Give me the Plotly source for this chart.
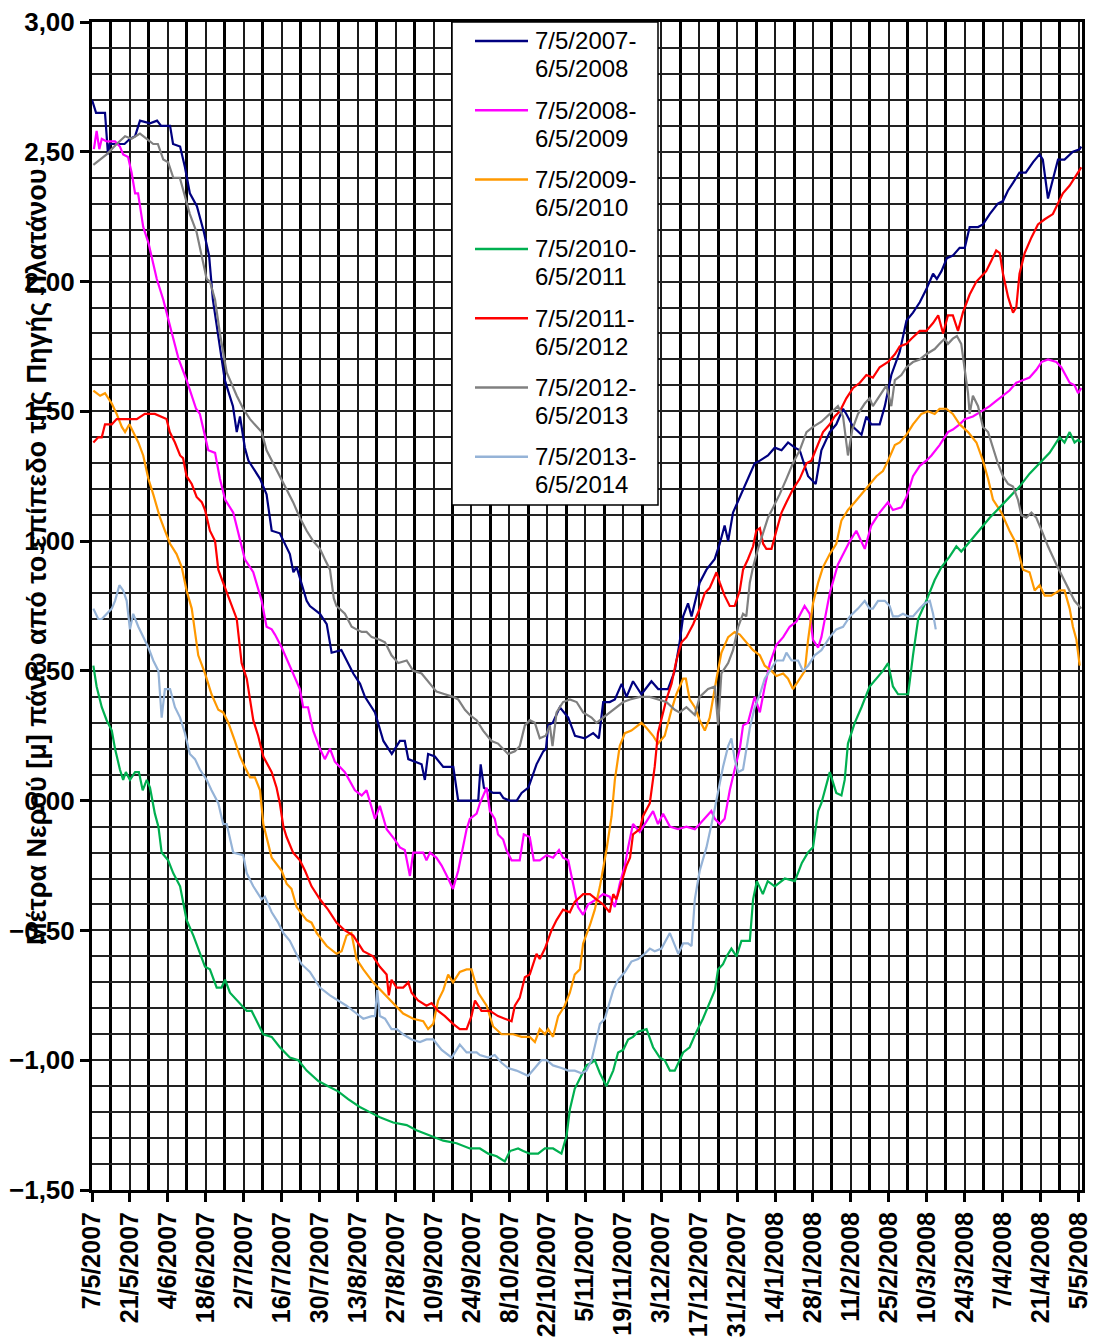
import plotly.graph_objects as go
import pandas as pd

BASE = pd.Timestamp("2007-05-07")

# (day offset from 7/5, water level in m)
s2007 = [(0, 2.70), (1.5, 2.65), (4.8, 2.65), (5.9, 2.49), (6.5, 2.53), (12, 2.53), (14, 2.55), (15.9, 2.56), (17.7, 2.62),
         (21.4, 2.61), (24, 2.62), (25.5, 2.60), (28.8, 2.60), (29.9, 2.53), (32.5, 2.52), (34.3, 2.44), (36.1, 2.34),
         (38.7, 2.29), (41.3, 2.19), (43.2, 2.10), (44.6, 1.93), (46.7, 1.78), (49, 1.62), (52, 1.52), (53.4, 1.42),
         (54.6, 1.48), (56.4, 1.36), (57.7, 1.31), (62, 1.24), (64.4, 1.18), (66.3, 1.04), (69.3, 1.03), (73, 0.95),
         (74.3, 0.88), (75.5, 0.90), (79.2, 0.77), (80.4, 0.75), (84.1, 0.72), (86.6, 0.68), (88.4, 0.57), (92, 0.58),
         (96.4, 0.49), (98.9, 0.45), (100.7, 0.40), (104.4, 0.34), (107.5, 0.23), (110.6, 0.18), (113.6, 0.23),
         (115.4, 0.23), (116.7, 0.16), (121.6, 0.14), (122.8, 0.08), (124, 0.18), (126.5, 0.17), (129.6, 0.13),
         (133.3, 0.13), (135.1, 0.00), (142.5, 0.00), (143.4, 0.14), (144.6, 0.05), (148, 0.03), (150.5, 0.03),
         (151.8, 0.01), (154.2, 0.00), (156.7, 0.00), (158.5, 0.03), (161, 0.05), (164, 0.14), (166.5, 0.19),
         (167.5, 0.20), (168.3, 0.29), (170, 0.30), (172.6, 0.36), (175.7, 0.32), (178.2, 0.25), (181.8, 0.24),
         (184.9, 0.26), (187, 0.24), (188.6, 0.38), (191, 0.38), (192.9, 0.39), (195.4, 0.45), (197.2, 0.40),
         (199.6, 0.46), (202.7, 0.41), (206.4, 0.46), (208.9, 0.43), (212.5, 0.43), (215, 0.50), (216.8, 0.61),
         (218.1, 0.71), (219.9, 0.76), (221.2, 0.71), (224.2, 0.84), (226.7, 0.89), (229.7, 0.93), (231.6, 0.99),
         (233.4, 1.06), (234.7, 1.00), (236.5, 1.11), (240.2, 1.20), (244.5, 1.30), (246.4, 1.31), (249.4, 1.33),
         (251.9, 1.36), (254.4, 1.35), (256.8, 1.38), (259.3, 1.36), (261.1, 1.35), (264.2, 1.25), (267, 1.22),
         (269.1, 1.35), (272.2, 1.42), (274.6, 1.45), (277.1, 1.51), (278.3, 1.49), (280.8, 1.44), (283.9, 1.41),
         (285.7, 1.48), (287.5, 1.45), (290.6, 1.45), (292.5, 1.52), (294.9, 1.64), (298, 1.73), (300.5, 1.85),
         (302.9, 1.88), (305.4, 1.92), (307.8, 1.97), (310.3, 2.03), (311.7, 2.01), (313.4, 2.04), (315.4, 2.09),
         (317.6, 2.10), (320.1, 2.13), (322, 2.13), (323.8, 2.21), (326.9, 2.21), (328.7, 2.22), (331.2, 2.26),
         (334.2, 2.30), (336.1, 2.31), (337.9, 2.35), (339.8, 2.38), (342.2, 2.42), (344.5, 2.42), (347.2, 2.46),
         (349.6, 2.49), (350.8, 2.47), (352.7, 2.32), (354.5, 2.39), (356.4, 2.47), (358.8, 2.47), (360.7, 2.49),
         (361.9, 2.50), (364.4, 2.51), (365, 2.52)]

s2008 = [(0.7, 2.51), (1.7, 2.58), (2.7, 2.51), (3.6, 2.55), (5.4, 2.54), (8.5, 2.54), (10.3, 2.52), (11.5, 2.49),
         (13.3, 2.48), (14.6, 2.42), (15.9, 2.34), (17.0, 2.34), (18.9, 2.21), (20.8, 2.15), (23.9, 2.01), (26.3, 1.93),
         (29.5, 1.80), (32.0, 1.70), (34.9, 1.62), (38.4, 1.51), (39.8, 1.49), (42.9, 1.35), (45.4, 1.34), (47.2, 1.24),
         (49.1, 1.16), (52.1, 1.11), (56.4, 0.93), (59.5, 0.88), (62.6, 0.77), (64.4, 0.67), (66.3, 0.66), (67.5, 0.64),
         (70.0, 0.59), (74.2, 0.49), (76.7, 0.43), (77.9, 0.36), (79.7, 0.36), (81.6, 0.27), (84.1, 0.20), (85.9, 0.16),
         (87.8, 0.20), (89.6, 0.15), (91.5, 0.13), (93.3, 0.11), (97.0, 0.04), (99.5, 0.02), (101.3, 0.04),
         (104.4, -0.07), (106.2, -0.02), (108.7, -0.11), (111.7, -0.15), (113.6, -0.18), (115.4, -0.19),
         (117.3, -0.29), (118.5, -0.20), (122.2, -0.20), (123.4, -0.23), (124.7, -0.20), (127.1, -0.22),
         (129.0, -0.25), (131.4, -0.30), (133.2, -0.34), (135.1, -0.27), (138.2, -0.11), (139.4, -0.07),
         (141.9, -0.05), (143.1, -0.01), (145.6, 0.05), (146.8, -0.04), (148.6, -0.07), (149.8, -0.13),
         (151.7, -0.15), (152.9, -0.19), (154.8, -0.23), (157.8, -0.23), (159.3, -0.13), (161.5, -0.14),
         (163.0, -0.23), (165.2, -0.23), (167.7, -0.21), (170.1, -0.22), (172.3, -0.19), (173.8, -0.22),
         (175.7, -0.23), (177.5, -0.32), (179.3, -0.41), (181.2, -0.44), (183.0, -0.40), (186.1, -0.38),
         (188.6, -0.36), (191.0, -0.37), (192.9, -0.41), (194.7, -0.32), (196.6, -0.25), (197.8, -0.18),
         (199.6, -0.09), (202.1, -0.12), (203.9, -0.09), (207.0, -0.04), (208.8, -0.09), (210.7, -0.05),
         (213.2, -0.10), (216.2, -0.11), (219.3, -0.10), (222.4, -0.11), (224.2, -0.09), (226.7, -0.06),
         (228.5, -0.04), (229.8, -0.07), (231.6, -0.09), (233.4, -0.07), (235.3, 0.04), (237.1, 0.12), (239.0, 0.20),
         (240.2, 0.29), (242.0, 0.30), (244.5, 0.40), (246.4, 0.34), (248.2, 0.44), (250.1, 0.53), (252.5, 0.60),
         (255.0, 0.63), (257.4, 0.67), (259.9, 0.69), (262.9, 0.75), (264.8, 0.72), (266.0, 0.62), (267.9, 0.59),
         (269.1, 0.63), (272.2, 0.80), (275.2, 0.91), (278.3, 0.97), (279.6, 1.00), (282.0, 1.04), (285.1, 0.97),
         (287.5, 1.06), (290.6, 1.11), (293.7, 1.15), (295.5, 1.12), (298.6, 1.13), (300.5, 1.17), (302.9, 1.25),
         (305.4, 1.29), (307.8, 1.31), (309.7, 1.33), (312.7, 1.37), (315.8, 1.42), (317.6, 1.43), (320.1, 1.45),
         (322.0, 1.47), (325.0, 1.48), (328.1, 1.50), (331.2, 1.52), (333.6, 1.54), (336.1, 1.56), (338.5, 1.58),
         (341.0, 1.61), (343.5, 1.62), (345.9, 1.63), (348.4, 1.66), (350.3, 1.69), (352.7, 1.70), (355.8, 1.69),
         (357.6, 1.67), (359.5, 1.63), (360.7, 1.61), (362.5, 1.60), (363.8, 1.57), (365, 1.59)]

s2009 = [(0.5, 1.58), (3.0, 1.56), (4.8, 1.57), (7.3, 1.53), (9.1, 1.49), (11.0, 1.44), (12.2, 1.42), (13.8, 1.45),
         (15.2, 1.42), (17.1, 1.38), (18.9, 1.33), (20.8, 1.24), (22.6, 1.18), (25.1, 1.09), (26.9, 1.04), (28.8, 0.99),
         (31.2, 0.95), (33.1, 0.90), (34.9, 0.81), (36.8, 0.74), (39.2, 0.56), (41.7, 0.49), (44.1, 0.41), (46.6, 0.35),
         (48.4, 0.34), (50.3, 0.30), (52.7, 0.23), (54.6, 0.17), (56.4, 0.13), (58.3, 0.09), (60.1, 0.09), (62.0, 0.04),
         (63.2, -0.09), (66.3, -0.22), (70.0, -0.27), (71.8, -0.32), (73.6, -0.34), (75.5, -0.41), (79.2, -0.46),
         (81.0, -0.47), (82.9, -0.51), (86.6, -0.56), (90.2, -0.59), (92.1, -0.58), (93.9, -0.52), (95.7, -0.51),
         (97.6, -0.61), (100.1, -0.65), (103.7, -0.70), (107.4, -0.74), (111.1, -0.78), (114.8, -0.82),
         (118.5, -0.84), (122.2, -0.85), (124.0, -0.88), (125.9, -0.86), (127.7, -0.77), (129.6, -0.73),
         (131.4, -0.67), (133.2, -0.70), (135.7, -0.66), (138.2, -0.65), (140.0, -0.65), (142.5, -0.74),
         (145.6, -0.79), (148.0, -0.87), (151.1, -0.90), (155.4, -0.90), (158.5, -0.91), (161.5, -0.91),
         (163.4, -0.93), (165.2, -0.88), (167.1, -0.90), (168.3, -0.88), (170.1, -0.91), (172.0, -0.83),
         (174.4, -0.79), (176.3, -0.74), (178.1, -0.67), (180.0, -0.65), (181.2, -0.55), (183.7, -0.48),
         (185.5, -0.42), (187.4, -0.33), (189.8, -0.19), (191.7, -0.06), (192.9, 0.08), (194.7, 0.21), (196.6, 0.26),
         (199.0, 0.27), (202.7, 0.30), (204.6, 0.28), (207.0, 0.25), (208.8, 0.22), (211.3, 0.25), (213.8, 0.35),
         (215.6, 0.41), (218.1, 0.47), (219.1, 0.47), (220.5, 0.39), (222.4, 0.36), (224.2, 0.31), (226.1, 0.27),
         (227.9, 0.32), (230.4, 0.47), (232.2, 0.57), (234.7, 0.63), (237.1, 0.65), (239.0, 0.64), (241.4, 0.61),
         (243.9, 0.58), (246.4, 0.56), (248.2, 0.52), (250.7, 0.50), (252.5, 0.48), (255.0, 0.49), (256.8, 0.47),
         (258.6, 0.43), (261.1, 0.47), (263.0, 0.50), (264.2, 0.62), (266.0, 0.76), (267.9, 0.84), (269.7, 0.90),
         (272.2, 0.95), (274.6, 0.99), (276.5, 1.08), (278.9, 1.12), (281.4, 1.15), (283.9, 1.18), (286.9, 1.22),
         (289.4, 1.25), (291.8, 1.27), (293.7, 1.31), (296.2, 1.37), (298.0, 1.38), (300.5, 1.41), (302.9, 1.45),
         (306.0, 1.49), (308.4, 1.50), (310.9, 1.49), (312.7, 1.51), (315.2, 1.51), (317.6, 1.49), (320.1, 1.45),
         (323.2, 1.42), (326.3, 1.38), (328.7, 1.31), (330.6, 1.24), (332.4, 1.16), (335.5, 1.11), (338.5, 1.04),
         (341.0, 0.99), (343.5, 0.89), (345.9, 0.88), (347.8, 0.81), (349.6, 0.83), (351.5, 0.79), (353.9, 0.79),
         (357.0, 0.81), (358.8, 0.81), (360.7, 0.74), (361.9, 0.67), (363.2, 0.62), (364.4, 0.52)]

s2010 = [(0.5, 0.52), (1.7, 0.44), (3.6, 0.36), (5.4, 0.31), (7.3, 0.27), (8.5, 0.20), (10.3, 0.12), (11.5, 0.08),
         (12.5, 0.11), (14.0, 0.08), (15.9, 0.11), (17.3, 0.11), (18.7, 0.04), (20.2, 0.08), (21.4, 0.05), (23.2, -0.05),
         (24.5, -0.10), (25.7, -0.20), (28.1, -0.23), (30.0, -0.28), (32.5, -0.33), (34.9, -0.46), (37.4, -0.52),
         (39.8, -0.59), (41.7, -0.64), (43.5, -0.65), (46.0, -0.72), (47.8, -0.72), (49.1, -0.69), (50.9, -0.74),
         (54.6, -0.78), (57.1, -0.81), (58.9, -0.81), (63.2, -0.90), (66.3, -0.91), (69.3, -0.95), (73.0, -0.99),
         (76.1, -1.00), (79.2, -1.04), (83.5, -1.08), (87.1, -1.10), (90.8, -1.12), (94.5, -1.15), (98.8, -1.18),
         (102.5, -1.20), (106.2, -1.22), (111.1, -1.24), (116.1, -1.25), (119.7, -1.27), (124.7, -1.29),
         (129.6, -1.31), (134.5, -1.32), (139.4, -1.34), (143.1, -1.34), (146.2, -1.36), (149.3, -1.37),
         (152.3, -1.39), (154.2, -1.35), (157.2, -1.34), (159.1, -1.35), (161.5, -1.36), (164.6, -1.36),
         (167.1, -1.34), (170.1, -1.34), (173.2, -1.36), (175.1, -1.29), (176.3, -1.19), (178.1, -1.11),
         (180.6, -1.06), (182.4, -1.02), (184.3, -1.01), (185.5, -1.00), (187.4, -1.05), (189.8, -1.10),
         (192.3, -1.04), (194.1, -0.97), (196.0, -0.96), (197.8, -0.92), (199.6, -0.91), (201.5, -0.89),
         (204.6, -0.88), (207.0, -0.95), (209.5, -0.99), (211.3, -1.00), (213.2, -1.04), (215.0, -1.04),
         (216.8, -1.00), (218.1, -0.97), (220.5, -0.95), (223.0, -0.89), (225.4, -0.84), (227.9, -0.78),
         (229.8, -0.73), (231.0, -0.65), (232.8, -0.63), (234.1, -0.60), (235.9, -0.57), (237.8, -0.60),
         (239.6, -0.54), (242.7, -0.54), (243.9, -0.38), (245.3, -0.31), (247.5, -0.36), (249.3, -0.31),
         (251.9, -0.33), (255.6, -0.30), (259.3, -0.31), (261.9, -0.24), (264.1, -0.20), (266.0, -0.18),
         (267.9, -0.04), (269.1, -0.01), (272.2, 0.11), (274.6, 0.03), (276.5, 0.02), (277.7, 0.08), (278.9, 0.22),
         (281.4, 0.30), (283.9, 0.36), (286.9, 0.44), (290.0, 0.48), (291.8, 0.50), (293.7, 0.53), (295.5, 0.44),
         (297.4, 0.41), (301.1, 0.41), (302.9, 0.56), (304.8, 0.70), (307.8, 0.77), (310.9, 0.85), (313.4, 0.90),
         (316.4, 0.94), (318.9, 0.98), (320.7, 0.96), (323.2, 0.99), (325.6, 1.02), (328.7, 1.06), (331.2, 1.09),
         (334.9, 1.13), (338.5, 1.17), (342.2, 1.21), (345.9, 1.26), (349.6, 1.30), (353.3, 1.34), (357.0, 1.40),
         (358.8, 1.38), (360.7, 1.42), (362.5, 1.38), (363.8, 1.39), (365, 1.38)]

s2011 = [(0.5, 1.38), (2.3, 1.40), (3.6, 1.40), (4.8, 1.45), (7.3, 1.45), (9.1, 1.47), (16.5, 1.47), (19.5, 1.49),
         (23.2, 1.49), (25.7, 1.48), (27.5, 1.47), (28.7, 1.42), (30.6, 1.38), (32.5, 1.33), (33.6, 1.32), (34.9, 1.25),
         (36.8, 1.22), (38.6, 1.17), (40.5, 1.15), (41.7, 1.12), (43.5, 1.04), (45.4, 1.00), (46.6, 0.89), (49.1, 0.82),
         (51.5, 0.75), (53.4, 0.70), (55.2, 0.53), (57.1, 0.47), (59.5, 0.31), (61.3, 0.25), (63.2, 0.17), (66.3, 0.11),
         (68.1, 0.05), (69.3, -0.01), (70.6, -0.10), (71.8, -0.14), (74.2, -0.20), (76.7, -0.23), (78.6, -0.27),
         (81.0, -0.33), (84.1, -0.38), (87.1, -0.42), (90.2, -0.47), (93.3, -0.50), (96.4, -0.52), (100.1, -0.58),
         (103.7, -0.60), (106.2, -0.64), (108.7, -0.67), (109.5, -0.75), (110.5, -0.69), (112.4, -0.72),
         (114.8, -0.72), (116.7, -0.70), (117.9, -0.74), (120.3, -0.77), (123.4, -0.79), (125.3, -0.78),
         (127.7, -0.81), (130.2, -0.83), (133.2, -0.86), (135.7, -0.88), (138.2, -0.88), (140.0, -0.83),
         (141.3, -0.77), (143.7, -0.81), (146.8, -0.81), (149.8, -0.83), (152.3, -0.84), (154.8, -0.85),
         (156.0, -0.79), (157.8, -0.76), (159.7, -0.68), (161.5, -0.67), (164.0, -0.59), (165.2, -0.61),
         (167.1, -0.57), (169.5, -0.50), (171.4, -0.46), (173.8, -0.42), (176.3, -0.43), (178.1, -0.39),
         (181.2, -0.36), (183.7, -0.36), (186.1, -0.38), (188.6, -0.40), (191.0, -0.43), (192.3, -0.36),
         (193.5, -0.38), (195.4, -0.31), (197.2, -0.25), (198.5, -0.22), (199.6, -0.13), (202.1, -0.11),
         (203.3, -0.06), (205.8, -0.01), (207.6, 0.13), (208.8, 0.26), (210.1, 0.31), (211.9, 0.39), (213.8, 0.45),
         (215.6, 0.54), (217.5, 0.61), (219.3, 0.63), (221.8, 0.68), (224.2, 0.74), (226.1, 0.80), (227.9, 0.82),
         (230.4, 0.88), (231.6, 0.84), (233.4, 0.79), (235.3, 0.75), (237.1, 0.75), (239.0, 0.81), (240.2, 0.89),
         (242.0, 0.93), (243.9, 0.98), (245.1, 1.04), (246.4, 1.05), (247.6, 0.99), (248.8, 0.97), (250.7, 0.97),
         (252.5, 1.04), (254.4, 1.11), (256.2, 1.15), (258.6, 1.20), (261.1, 1.24), (263.6, 1.30), (265.4, 1.31),
         (267.3, 1.36), (269.7, 1.42), (272.2, 1.45), (274.0, 1.48), (275.9, 1.50), (278.3, 1.55), (280.8, 1.59),
         (283.3, 1.61), (285.7, 1.64), (288.1, 1.63), (290.6, 1.67), (293.7, 1.69), (296.2, 1.72), (298.0, 1.75),
         (300.5, 1.76), (302.3, 1.78), (305.4, 1.81), (307.8, 1.81), (310.3, 1.84), (312.2, 1.87), (314.0, 1.80),
         (315.8, 1.87), (317.6, 1.87), (319.5, 1.81), (321.3, 1.88), (323.8, 1.95), (326.3, 2.00), (329.9, 2.04),
         (331.8, 2.08), (333.6, 2.12), (334.9, 2.11), (336.1, 2.03), (338.0, 1.94), (339.8, 1.88), (341.0, 1.90),
         (342.2, 2.03), (344.1, 2.11), (346.6, 2.17), (349.0, 2.22), (351.5, 2.24), (354.5, 2.26), (356.4, 2.30),
         (358.2, 2.34), (360.7, 2.37), (363.2, 2.41), (365, 2.44)]

s2012 = [(0.5, 2.45), (5.4, 2.49), (9.1, 2.53), (12.2, 2.56), (14.6, 2.55), (17.7, 2.57), (20.2, 2.55), (22.6, 2.53),
         (24.3, 2.53), (26.3, 2.47), (28.1, 2.46), (30.0, 2.40), (32.4, 2.40), (34.3, 2.33), (36.1, 2.26), (38.6, 2.19),
         (40.5, 2.10), (42.3, 2.01), (43.5, 2.00), (45.4, 1.93), (47.2, 1.80), (49.7, 1.65), (53.4, 1.56), (55.8, 1.51),
         (58.3, 1.47), (60.7, 1.44), (62.6, 1.42), (64.4, 1.35), (66.9, 1.30), (69.3, 1.25), (71.8, 1.20), (74.2, 1.15),
         (76.7, 1.09), (79.2, 1.04), (81.6, 1.00), (84.1, 0.97), (85.9, 0.93), (87.8, 0.89), (89.2, 0.78), (90.2, 0.75),
         (93.3, 0.72), (95.8, 0.67), (97.6, 0.66), (99.5, 0.65), (101.3, 0.65), (103.2, 0.63), (106.2, 0.62),
         (108.1, 0.61), (110.5, 0.56), (113.0, 0.53), (116.1, 0.54), (118.5, 0.50), (121.6, 0.49), (124.7, 0.45),
         (127.1, 0.42), (130.2, 0.41), (133.2, 0.40), (135.1, 0.39), (137.6, 0.35), (139.4, 0.33), (141.9, 0.31),
         (144.3, 0.27), (147.4, 0.23), (149.8, 0.22), (151.7, 0.20), (153.5, 0.18), (156.0, 0.19), (157.8, 0.21),
         (159.7, 0.29), (161.5, 0.31), (163.4, 0.30), (165.2, 0.24), (167.4, 0.25), (168.9, 0.29), (169.9, 0.21),
         (171.4, 0.34), (173.8, 0.38), (176.3, 0.39), (178.8, 0.38), (181.2, 0.34), (184.3, 0.32), (186.1, 0.30),
         (188.6, 0.32), (191.0, 0.34), (193.5, 0.36), (196.0, 0.38), (198.5, 0.39), (202.1, 0.40), (205.8, 0.40),
         (208.8, 0.39), (211.9, 0.38), (215.0, 0.35), (216.8, 0.34), (219.3, 0.36), (222.4, 0.33), (224.2, 0.40),
         (227.3, 0.43), (229.8, 0.44), (231.0, 0.29), (232.2, 0.49), (234.7, 0.53), (236.5, 0.58), (238.4, 0.67),
         (240.2, 0.72), (241.4, 0.71), (242.7, 0.84), (243.9, 0.90), (245.7, 0.97), (247.6, 1.03), (249.4, 1.09),
         (251.3, 1.13), (253.7, 1.18), (256.2, 1.24), (258.6, 1.30), (261.1, 1.35), (263.6, 1.42), (266.0, 1.44),
         (269.1, 1.46), (272.2, 1.49), (275.2, 1.52), (277.1, 1.48), (278.9, 1.33), (280.5, 1.43), (282.6, 1.49),
         (285.1, 1.53), (286.9, 1.55), (288.1, 1.52), (290.6, 1.56), (293.1, 1.60), (294.9, 1.52), (296.2, 1.62),
         (298.6, 1.64), (300.5, 1.67), (302.9, 1.69), (305.4, 1.70), (307.8, 1.72), (310.9, 1.74), (312.7, 1.76),
         (314.6, 1.78), (315.8, 1.76), (317.6, 1.78), (319.1, 1.79), (320.7, 1.76), (322.0, 1.66), (323.2, 1.57),
         (323.8, 1.49), (325.0, 1.56), (326.9, 1.52), (328.7, 1.44), (330.6, 1.42), (332.4, 1.36), (334.2, 1.30),
         (336.1, 1.25), (338.0, 1.22), (339.8, 1.21), (341.6, 1.16), (342.9, 1.10), (344.7, 1.09), (346.6, 1.11),
         (348.4, 1.09), (350.8, 1.03), (352.7, 0.98), (355.8, 0.91), (358.3, 0.86), (360.7, 0.81), (362.5, 0.77),
         (365, 0.74)]

s2013 = [(0.5, 0.74), (2.3, 0.70), (3.6, 0.70), (5.4, 0.72), (7.3, 0.74), (8.5, 0.77), (10.1, 0.83), (11.5, 0.81),
         (12.8, 0.77), (14.0, 0.66), (15.2, 0.72), (17.1, 0.67), (18.9, 0.63), (20.8, 0.59), (22.6, 0.54), (24.5, 0.50),
         (25.7, 0.32), (26.9, 0.43), (28.8, 0.43), (30.6, 0.36), (32.5, 0.32), (34.3, 0.26), (36.1, 0.18), (38.0, 0.16),
         (39.8, 0.12), (42.3, 0.08), (44.1, 0.04), (46.6, -0.01), (48.4, -0.09), (49.7, -0.09), (52.1, -0.20),
         (55.8, -0.21), (57.1, -0.28), (59.5, -0.33), (62.6, -0.38), (63.8, -0.37), (66.3, -0.43), (68.7, -0.47),
         (70.6, -0.51), (73.0, -0.54), (74.9, -0.58), (77.3, -0.63), (80.4, -0.66), (84.1, -0.72), (87.8, -0.75),
         (90.8, -0.77), (93.9, -0.79), (97.6, -0.82), (100.1, -0.84), (103.2, -0.83), (104.4, -0.83), (105.2, -0.73),
         (106.2, -0.83), (108.1, -0.84), (110.5, -0.88), (112.4, -0.88), (114.8, -0.90), (117.9, -0.92),
         (121.0, -0.93), (123.4, -0.92), (125.9, -0.92), (129.0, -0.96), (132.7, -0.99), (135.7, -0.94),
         (138.2, -0.97), (141.9, -0.97), (143.1, -0.98), (146.2, -0.99), (148.6, -0.98), (151.1, -1.01),
         (153.5, -1.03), (156.6, -1.04), (158.5, -1.05), (160.9, -1.06), (163.4, -1.03), (165.8, -1.00),
         (167.7, -1.00), (170.1, -1.02), (173.2, -1.03), (175.7, -1.04), (178.1, -1.04), (180.6, -1.05),
         (182.4, -1.04), (184.3, -1.00), (186.1, -0.92), (187.4, -0.86), (189.2, -0.84), (190.4, -0.80),
         (192.3, -0.73), (194.1, -0.69), (196.6, -0.66), (199.0, -0.62), (201.5, -0.61), (203.9, -0.59),
         (205.8, -0.57), (207.6, -0.58), (210.1, -0.57), (213.2, -0.51), (215.0, -0.56), (216.3, -0.59),
         (218.1, -0.55), (219.9, -0.55), (221.2, -0.56), (222.4, -0.38), (224.2, -0.27), (226.7, -0.18),
         (229.2, -0.06), (231.0, 0.03), (232.8, 0.13), (234.7, 0.21), (235.9, 0.24), (237.1, 0.16), (238.4, 0.11),
         (240.2, 0.12), (241.4, 0.20), (242.7, 0.28), (244.5, 0.36), (246.4, 0.41), (248.2, 0.47), (250.1, 0.50),
         (252.5, 0.54), (255.0, 0.54), (256.2, 0.57), (258.1, 0.54), (260.5, 0.54), (262.3, 0.50), (264.2, 0.52),
         (266.6, 0.56), (269.1, 0.58), (272.2, 0.63), (274.6, 0.66), (277.1, 0.67), (279.6, 0.71), (282.6, 0.74),
         (285.1, 0.77), (286.9, 0.74), (288.1, 0.74), (290.0, 0.77), (292.5, 0.77), (294.3, 0.75), (295.5, 0.71),
         (297.4, 0.71), (299.2, 0.72), (301.1, 0.71), (302.9, 0.71), (305.4, 0.74), (307.2, 0.76), (309.1, 0.77),
         (310.3, 0.72), (311.3, 0.66)]

series_names = ["7/5/2007-<br>6/5/2008", "7/5/2008-<br>6/5/2009", "7/5/2009-<br>6/5/2010", "7/5/2010-<br>6/5/2011",
                "7/5/2011-<br>6/5/2012", "7/5/2012-<br>6/5/2013", "7/5/2013-<br>6/5/2014"]
series_data = [s2007, s2008, s2009, s2010, s2011, s2012, s2013]
series_colors = ["#000080", "#FF00FF", "#FF9900", "#00B050", "#FF0000", "#808080", "#95B3D7"]

FONT = "Liberation Sans"
fig = go.Figure()
for name, data, color in zip(series_names, series_data, series_colors):
    days = [d for d, _ in data]
    vals = [v for _, v in data]
    x = [BASE + pd.Timedelta(days=float(d)) for d in days]
    fig.add_trace(go.Scatter(x=x, y=vals, mode="lines", name=name,
                             line=dict(color=color, width=2.2), showlegend=False))

W, H = 1094, 1340
L, R, T, B = 92, 12, 22, 150
PW, PH = W - L - R, H - T - B


def px_x(px):
    return (px - L) / PW


def px_y(py):
    return (H - B - py) / PH


fig.update_layout(
    width=W, height=H,
    margin=dict(l=L, r=R, t=T, b=B, autoexpand=False),
    paper_bgcolor="white", plot_bgcolor="white",
    separators=",.",
    font=dict(family=FONT, color="black"),
    showlegend=False,
    xaxis=dict(
        type="date", automargin=False,
        range=[BASE, BASE + pd.Timedelta(days=365.25)],
        tickmode="linear", tick0=BASE, dtick=14 * 86400000,
        tickformat="%-d/%-m/%Y", tickangle=-90,
        tickfont=dict(family=FONT, size=25, color="black", weight="bold"),
        ticks="outside", ticklen=9, tickwidth=2.5, tickcolor="black",
        showline=True, linewidth=3, linecolor="black", mirror=True,
        showgrid=True, gridcolor="#1a1a1a", gridwidth=1.5,
        minor=dict(tick0=BASE, dtick=7 * 86400000, showgrid=True, gridcolor="black", gridwidth=3, ticks=""),
        zeroline=False,
    ),
    yaxis=dict(
        automargin=False,
        range=[-1.5, 3.0],
        tickmode="linear", tick0=0, dtick=0.5, tickformat=".2f",
        tickfont=dict(family=FONT, size=26, color="black", weight="bold"),
        ticks="outside", ticklen=9, tickwidth=2.5, tickcolor="black",
        showline=True, linewidth=3, linecolor="black", mirror=True,
        showgrid=True, gridcolor="#222222", gridwidth=1.8,
        minor=dict(dtick=0.1, showgrid=True, gridcolor="#222222", gridwidth=1.8, ticks=""),
        zeroline=False,
    ),
)

# y-axis title (overlapping the tick labels, as in the reference)
fig.add_annotation(text="Μέτρα Νερού [μ] πάνω από το επίπεδο της Πηγής Πλατάνου",
                   xref="paper", yref="paper", x=px_x(37), y=px_y(557),
                   xanchor="center", yanchor="middle", textangle=-90, showarrow=False,
                   font=dict(family=FONT, size=27, color="black", weight="bold"))

# legend box
fig.add_shape(type="rect", xref="paper", yref="paper",
              x0=px_x(452), x1=px_x(658), y0=px_y(505), y1=px_y(22),
              line=dict(color="black", width=1.5), fillcolor="white", layer="above")
for i, (name, color) in enumerate(zip(series_names, series_colors)):
    y1 = 41 + 69.3 * i
    fig.add_shape(type="line", xref="paper", yref="paper",
                  x0=px_x(475), x1=px_x(528), y0=px_y(y1), y1=px_y(y1),
                  line=dict(color=color, width=2.5), layer="above")
    for j, part in enumerate(name.split("<br>")):
        fig.add_annotation(text=part, xref="paper", yref="paper",
                           x=px_x(533), y=px_y(y1 + 28 * j), xanchor="left", yanchor="middle",
                           showarrow=False, font=dict(family=FONT, size=24, color="black"))

fig.write_html("out.html", config={"displayModeBar": False},
               post_script="document.body.style.margin='0';document.body.style.overflow='hidden';")
